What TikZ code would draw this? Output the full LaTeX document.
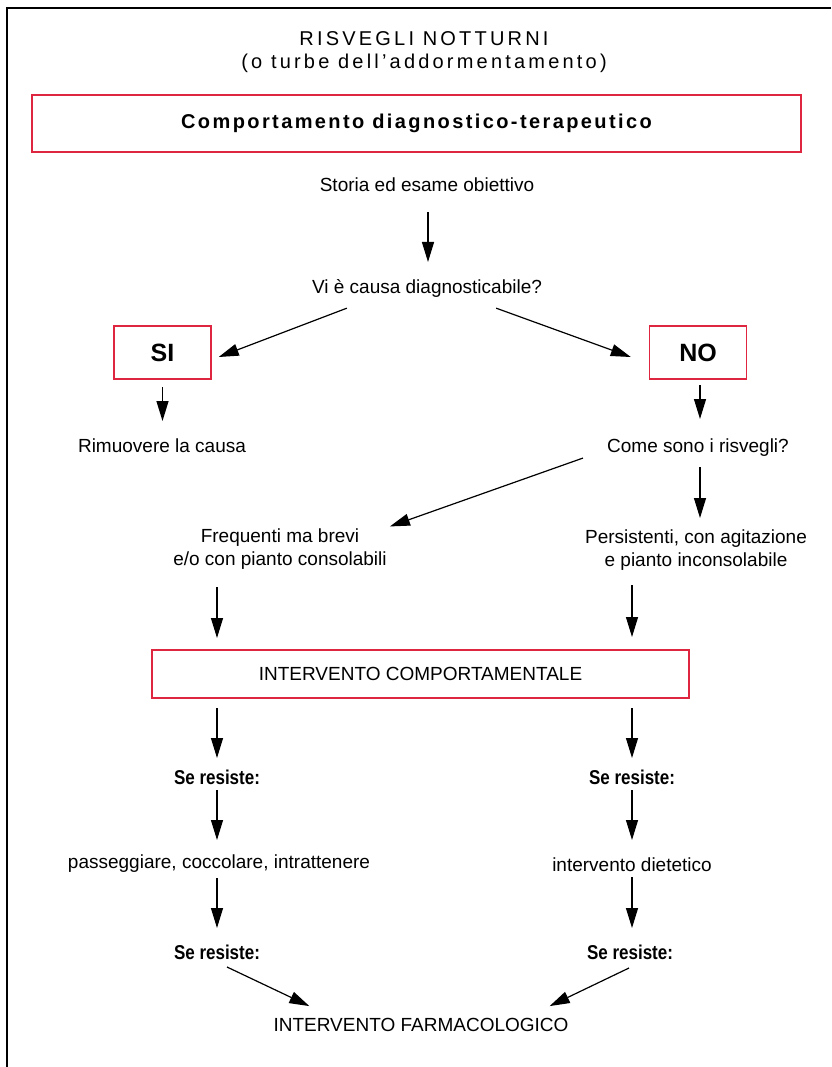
\documentclass[tikz,border=0pt]{standalone}
\usepackage{fontspec}
\setmainfont{Liberation Sans}
\newfontfamily\spacedfont[LetterSpace=16]{Liberation Sans}
\newfontfamily\headfont[LetterSpace=12]{Liberation Sans}
\newfontfamily\narrowfont[FakeStretch=0.85]{Liberation Sans}
\usetikzlibrary{arrows.meta,calc}
\definecolor{boxred}{RGB}{222,38,64}

\begin{document}
\begin{tikzpicture}[
    x=1pt, y=-1pt,
    txt/.style={font=\fontsize{19}{23}\selectfont, inner sep=0pt, align=center},
    sres/.style={font=\narrowfont\bfseries\fontsize{20}{24}\selectfont, inner sep=0pt},
    box/.style={draw=boxred, line width=1.4pt, inner sep=0pt, align=center},
    arr/.style={-{Triangle[length=20pt,width=12pt]}, line width=1.2pt}
]
\useasboundingbox (0,0) rectangle (831,1067);
\draw[line width=2.5pt] (7,1067) -- (7,8) -- (831,8);

\node[inner sep=0pt, align=center, font=\spacedfont\fontsize{20}{23}\selectfont] (title) at (424,52)
    {RISVEGLI NOTTURNI\\(o turbe dell’addormentamento)};
\node[box, minimum width=769pt, minimum height=57pt, font=\headfont\bfseries\fontsize{20}{24}\selectfont] (head) at (416.5,123.5)
    {Comportamento diagnostico-terapeutico};

\node[txt] (storia) at (427,185) {Storia ed esame obiettivo};
\node[txt] (vi)     at (427,288) {Vi è causa diagnosticabile?};
\node[box, minimum width=97pt, minimum height=53pt, font=\bfseries\fontsize{25}{28}\selectfont] (si) at (162.5,352.5) {SI};
\node[box, minimum width=97pt, minimum height=53pt, font=\bfseries\fontsize{25}{28}\selectfont] (no) at (698,352.5) {NO};
\node[txt] (rimuovi) at (162,446) {Rimuovere la causa};
\node[txt] (come)    at (698,448) {Come sono i risvegli?};
\node[txt] (freq)    at (280,549) {Frequenti ma brevi\\e/o con pianto consolabili};
\node[txt] (pers)    at (696,550) {Persistenti, con agitazione\\e pianto inconsolabile};
\node[box, minimum width=537pt, minimum height=48pt, font=\fontsize{19}{23}\selectfont] (comp) at (420.5,674)
    {INTERVENTO COMPORTAMENTALE};

\node[sres] (sra) at (217,777) {Se resiste:};
\node[txt]  (pass) at (219,864) {passeggiare, coccolare, intrattenere};
\node[sres] (srb) at (217,952) {Se resiste:};
\node[sres] (src) at (632,777) {Se resiste:};
\node[txt]  (diet) at (632,865) {intervento dietetico};
\node[sres] (srd) at (630,952) {Se resiste:};
\node[txt]  (farm) at (421,1025) {INTERVENTO FARMACOLOGICO};

% top part
\draw[arr] ($(storia.center)+(1,27)$) -- ($(vi.center)+(1,-26)$);
\draw[arr] ($(vi.south west)+(35,11)$) -- ($(si.east)+(7,4.5)$);
\draw[arr] ($(vi.south east)+(-46,11)$) -- ($(no.west)+(-18,4.5)$);
\draw[arr] ($(si.center)+(0,34.5)$) -- ($(rimuovi.center |- si.center)+(0.5,68.5)$);
\draw[arr] ($(no.center)+(2,32.5)$) -- ($(no.center)+(2,66.5)$);
\draw[arr] ($(come.south west)+(-24,1)$) -- ($(freq.north east)+(3,-2)$);
\draw[arr] ($(come.center)+(2,19)$) -- ($(come.center)+(2,70)$);

% towards the box
\draw[arr] ($(freq.center -| sra.center)+(0,38)$) -- ($(comp.center -| sra.center)+(0,-36)$);
\draw[arr] ($(pers.center -| src.center)+(0,35)$) -- ($(comp.center -| src.center)+(0,-37)$);

% left column
\draw[arr] ($(comp.center -| sra.center)+(0,34)$) -- ($(sra.center)+(0,-19)$);
\draw[arr] ($(sra.center)+(0,13)$) -- ($(pass.center -| sra.center)+(0,-24)$);
\draw[arr] ($(pass.center -| sra.center)+(0,14)$) -- ($(srb.center)+(0,-24)$);

% right column
\draw[arr] ($(comp.center -| src.center)+(0,34)$) -- ($(src.center)+(0,-19)$);
\draw[arr] ($(src.center)+(0,13)$) -- ($(diet.center -| src.center)+(0,-25)$);
\draw[arr] ($(diet.center -| src.center)+(0,12)$) -- ($(srd.center -| src.center)+(0,-24)$);

% bottom
\draw[arr] ($(srb.center)+(10,15)$) -- ($(farm.north west)+(36,-12)$);
\draw[arr] ($(srd.center)+(-1,16)$) -- ($(farm.north east)+(-19,-12)$);
\end{tikzpicture}
\end{document}
